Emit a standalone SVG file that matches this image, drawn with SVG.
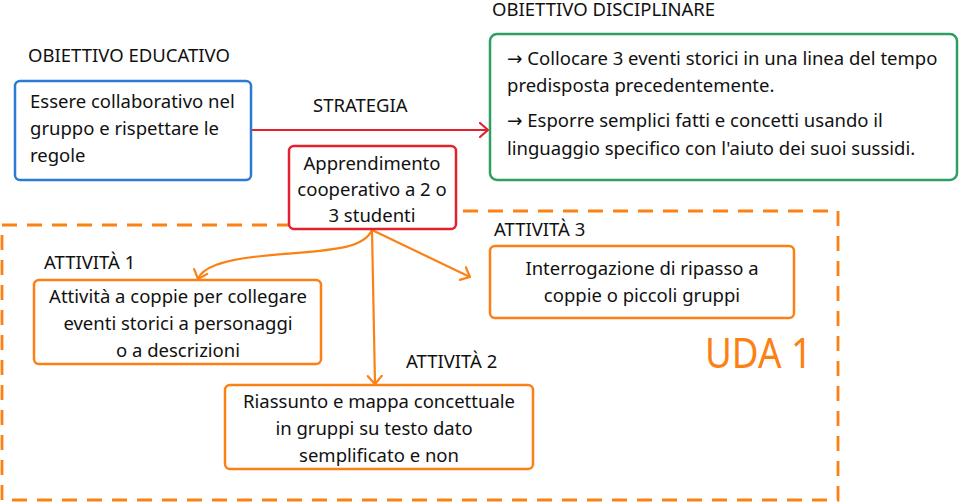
<svg xmlns="http://www.w3.org/2000/svg" width="959" height="503" viewBox="0 0 959 503">
<style>
text{font-family:"Noto Sans","Liberation Sans",sans-serif;font-size:18.5px;fill:#111}
.h{font-size:18.5px}
.c{text-anchor:middle}
.ar{font-family:"DejaVu Sans",sans-serif}
.box{fill:#fff;stroke-width:2.5}
.orange{stroke:#fb8114}
.con{fill:none;stroke-width:2.2}
</style>
<defs>
<marker id="ao" markerUnits="userSpaceOnUse" markerWidth="14" markerHeight="18" refX="9" refY="8" orient="auto">
<path d="M1,1 L9,8 L1,15" fill="none" stroke="#fb8114" stroke-width="2.2" stroke-linecap="round" stroke-linejoin="round"/>
</marker>
<marker id="ar" markerUnits="userSpaceOnUse" markerWidth="14" markerHeight="18" refX="9" refY="8" orient="auto">
<path d="M1,1 L9,8 L1,15" fill="none" stroke="#e3202e" stroke-width="2.2" stroke-linecap="round" stroke-linejoin="round"/>
</marker>
</defs>
<rect width="959" height="503" fill="#fff"/>
<g id="uda">
<path d="M2,225 H372 V211 H838 V500 H2 Z" fill="none" stroke="#fb8114" stroke-width="2.8" stroke-dasharray="15,10"/>
<text x="705" y="368" textLength="107" lengthAdjust="spacingAndGlyphs" style="font-size:41px;fill:#fb8114">UDA 1</text>
</g>
<g id="connectors">
<path class="con" d="M251,130 H488" stroke="#e3202e" marker-end="url(#ar)"/>
<path class="con orange" d="M372,230 C362,252 320,250 262,256 C220,260 202,268 198,279" marker-end="url(#ao)"/>
<path class="con orange" d="M372,230 L375,384" marker-end="url(#ao)"/>
<path class="con orange" d="M372,230 L470,277" marker-end="url(#ao)"/>
</g>
<g id="obiettivo-educativo">
<text class="h" x="28" y="62">OBIETTIVO EDUCATIVO</text>
<rect class="box" x="15" y="81" width="236" height="99" rx="5" stroke="#2b7bd6"/>
<text x="30" y="108">Essere collaborativo nel</text>
<text x="30" y="135">gruppo e rispettare le</text>
<text x="30" y="162">regole</text>
</g>
<g id="strategia">
<text class="h" x="313" y="112">STRATEGIA</text>
<rect class="box" x="289" y="146" width="167" height="83" rx="5" stroke="#e3202e"/>
<text class="c" x="372" y="170">Apprendimento</text>
<text class="c" x="372" y="196">cooperativo a 2 o</text>
<text class="c" x="372" y="222">3 studenti</text>
</g>
<g id="obiettivo-disciplinare">
<text class="h" x="492" y="16">OBIETTIVO DISCIPLINARE</text>
<rect class="box" x="490" y="34" width="467" height="146" rx="7" stroke="#2e9e62"/>
<text x="507" y="65"><tspan class="ar">→</tspan> Collocare 3 eventi storici in una linea del tempo</text>
<text x="507" y="92">predisposta precedentemente.</text>
<text x="507" y="127"><tspan class="ar">→</tspan> Esporre semplici fatti e concetti usando il</text>
<text x="507" y="155">linguaggio specifico con l'aiuto dei suoi sussidi.</text>
</g>
<g id="attivita-1">
<text class="h" x="44" y="269">ATTIVITÀ 1</text>
<rect class="box orange" x="34" y="280" width="287" height="84" rx="5"/>
<text class="c" x="178" y="303">Attività a coppie per collegare</text>
<text class="c" x="178" y="330">eventi storici a personaggi</text>
<text class="c" x="178" y="357">o a descrizioni</text>
</g>
<g id="attivita-2">
<text class="h" x="406" y="368">ATTIVITÀ 2</text>
<rect class="box orange" x="225" y="385" width="308" height="84" rx="5"/>
<text class="c" x="379" y="408">Riassunto e mappa concettuale</text>
<text class="c" x="374" y="435">in gruppi su testo dato</text>
<text class="c" x="379" y="462">semplificato e non</text>
</g>
<g id="attivita-3">
<text class="h" x="494" y="236">ATTIVITÀ 3</text>
<rect class="box orange" x="490" y="246" width="304" height="72" rx="5"/>
<text class="c" x="642" y="275">Interrogazione di ripasso a</text>
<text class="c" x="642" y="302">coppie o piccoli gruppi</text>
</g>
</svg>
